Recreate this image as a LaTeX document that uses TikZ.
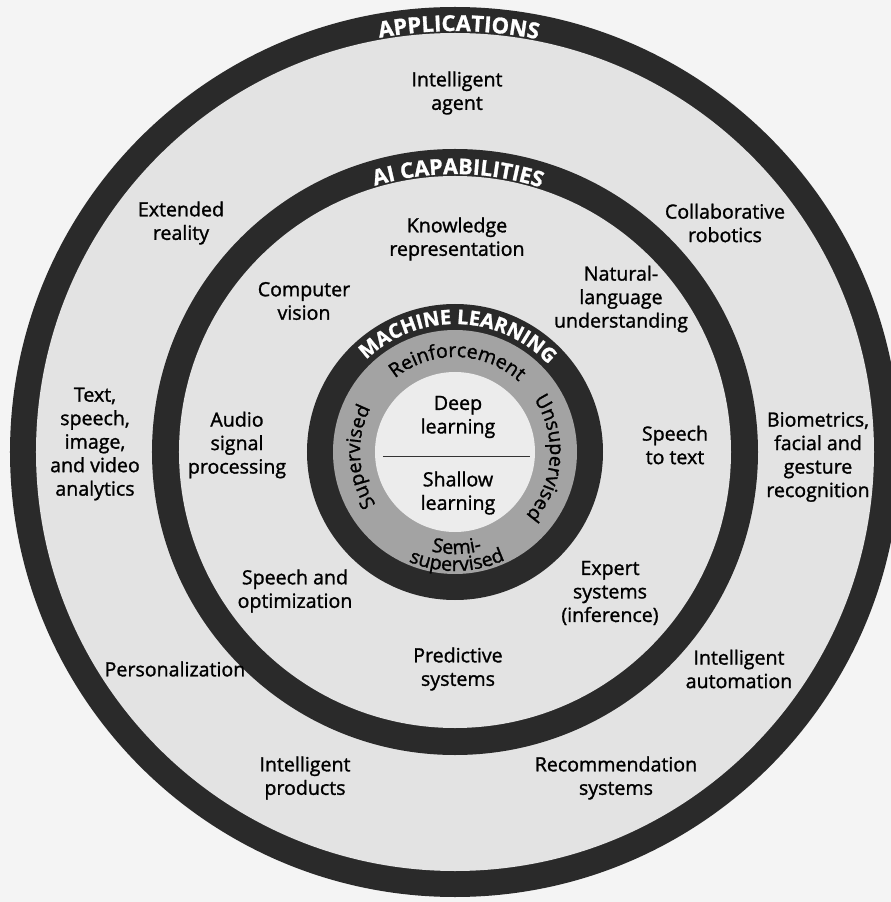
\documentclass[tikz,border=0pt]{standalone}
\usepackage{fontspec}
\setmainfont{Open Sans}[FakeBold=1.3]
\usetikzlibrary{decorations.text}
\definecolor{ringdark}{HTML}{2A2A2A}
\definecolor{ringgray}{HTML}{A3A3A3}
\definecolor{fieldlight}{HTML}{E3E3E3}
\definecolor{corelight}{HTML}{ECECEC}
\definecolor{paper}{HTML}{F4F4F4}
\begin{document}
\begin{tikzpicture}[x=1pt,y=1pt,
  lbl/.style={align=center, font=\fontsize{19.6}{23.5}\selectfont, text=black, inner sep=0pt},
]
\useasboundingbox (-455,-450) rectangle (436,452);
\fill[paper] (-455,-450) rectangle (436,452);
% rings
\fill[ringdark] (0,0) circle[radius=445];
\fill[fieldlight] (0,0) circle[radius=419];
\fill[ringdark] (0,0) circle[radius=303];
\fill[fieldlight] (0,0) circle[radius=276];
\fill[ringdark] (0,0) circle[radius=148];
\fill[ringgray] (0,0) circle[radius=122];
\fill[corelight] (0,0) circle[radius=80];

% ring headings
\path[decorate, decoration={text along path, text align=center, text color=white,
  text={|\fontsize{22}{22}\selectfont\bfseries|APPLICATIONS}}]
  (120:421) arc[start angle=120, end angle=59, radius=421];
\path[decorate, decoration={text along path, text align=center, text color=white,
  text={|\fontsize{21.5}{21.5}\selectfont\bfseries|AI CAPABILITIES}}]
  (130:278) arc[start angle=130, end angle=48.8, radius=278];
\path[decorate, decoration={text along path, text align=center, text color=white,
  text={|\fontsize{20}{20}\selectfont\bfseries|MACHINE LEARNING}}]
  (150:128) arc[start angle=150, end angle=27, radius=128];

% learning types in the gray band
\path[decorate, decoration={text along path, text align=center,
  text={|\fontsize{19.6}{19.6}\selectfont|Reinforcement}}]
  (160:95) arc[start angle=160, end angle=17, radius=95];
\path[decorate, decoration={text along path, text align=center,
  text={|\fontsize{19.6}{19.6}\selectfont|Supervised}}]
  (250:95) arc[start angle=250, end angle=116, radius=95];
\path[decorate, decoration={text along path, text align=center,
  text={|\fontsize{19.6}{19.6}\selectfont|Unsupervised}}]
  (60:95) arc[start angle=60, end angle=-68, radius=95];
\path[decorate, decoration={text along path, text align=center,
  text={|\fontsize{19.6}{19.6}\selectfont|Semi-}}]
  (221:102) arc[start angle=221, end angle=321, radius=102];
\path[decorate, decoration={text along path, text align=center,
  text={|\fontsize{19.6}{19.6}\selectfont|supervised}}]
  (211:119) arc[start angle=211, end angle=331, radius=119];

% core
\node[lbl] (deep) at (3,35) {Deep\\learning};
\node[lbl] (shallow) at (3,-41) {Shallow\\learning};
\coordinate (divL) at (-72,-4);
\coordinate (divR) at (75,-4);
\draw[line width=0.8pt, black!80] (divL) -- (divR);

% AI capabilities
\node[lbl] (knowledge) at (2,213) {Knowledge\\representation};
\node[lbl] (vision) at (-151,151) {Computer\\vision};
\node[lbl] (nlu) at (166,153) {Natural-\\language\\understanding};
\node[lbl] (audio) at (-218,7) {Audio\\signal\\processing};
\node[lbl] (s2t) at (220,7) {Speech\\to text};
\node[lbl] (speechopt) at (-160,-139) {Speech and\\optimization};
\node[lbl] (expert) at (155,-141) {Expert\\systems\\(inference)};
\node[lbl] (predictive) at (3,-217) {Predictive\\systems};

% applications
\node[lbl] (agent) at (2,359) {Intelligent\\agent};
\node[lbl] (xr) at (-274,229) {Extended\\reality};
\node[lbl] (cobot) at (270,229) {Collaborative\\robotics};
\node[lbl] (analytics) at (-360,8) {Text,\\speech,\\image,\\and video\\analytics};
\node[lbl] (biometrics) at (363,-5) {Biometrics,\\facial and\\gesture\\recognition};
\node[lbl] (personal) at (-280,-217) {Personalization};
\node[lbl] (automation) at (284,-217) {Intelligent\\automation};
\node[lbl] (products) at (-150,-326) {Intelligent\\products};
\node[lbl] (recommend) at (161,-326) {Recommendation\\systems};
\end{tikzpicture}
\end{document}
